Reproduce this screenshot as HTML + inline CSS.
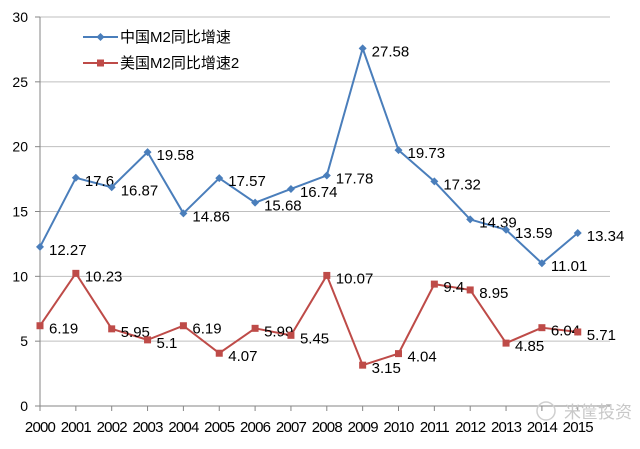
<!DOCTYPE html>
<html><head><meta charset="utf-8"><style>
html,body{margin:0;padding:0;background:#fff;width:640px;height:449px;overflow:hidden}
text{font-family:"Liberation Sans","Noto Sans CJK SC",sans-serif}
</style></head><body>
<svg id="chart" width="640" height="449" viewBox="0 0 640 449" xmlns="http://www.w3.org/2000/svg"></svg>
<script>
const years=["2000","2001","2002","2003","2004","2005","2006","2007","2008","2009","2010","2011","2012","2013","2014","2015"];
const chinaM2=[12.27,17.6,16.87,19.58,14.86,17.57,15.68,16.74,17.78,27.58,19.73,17.32,14.39,13.59,11.01,13.34];
const usM2=[6.19,10.23,5.95,5.1,6.19,4.07,5.99,5.45,10.07,3.15,4.04,9.4,8.95,4.85,6.04,5.71];
const yTicks=[0,5,10,15,20,25,30];
const NS="http://www.w3.org/2000/svg";
const svg=document.getElementById('chart');
const x0=40,dx=35.85,y0=406,yTop=17,yMax=30;
function xs(i){return x0+i*dx;}
function ys(v){return y0-(v/yMax)*(y0-yTop);}
function mk(t,a,p){const e=document.createElementNS(NS,t);for(const k in a)e.setAttribute(k,a[k]);(p||svg).appendChild(e);return e;}
yTicks.forEach(v=>{
  if(v>0){const g=mk('line',{x1:x0,x2:610,y1:ys(v),y2:ys(v),stroke:'#bfbfbf','stroke-width':1});
  
  }
  const tk=mk('line',{x1:x0-5,x2:x0,y1:ys(v),y2:ys(v),stroke:'#868686'});
  
  
  const t=mk('text',{x:x0-12,y:ys(v)+5,'text-anchor':'end','font-size':14,fill:'#000'});
  t.textContent=v;
  
  
});
const ya=mk('line',{x1:x0,x2:x0,y1:yTop,y2:y0,stroke:'#868686'});


const xa=mk('line',{x1:x0,x2:610,y1:y0,y2:y0,stroke:'#868686'});


years.forEach((yr,i)=>{
  const tk=mk('line',{x1:xs(i),x2:xs(i),y1:y0,y2:y0+5,stroke:'#868686'});
  
  
  const t=mk('text',{x:xs(i),y:432,'text-anchor':'middle','font-size':15,'letter-spacing':'-0.8',fill:'#000'});
  t.textContent=yr;
  
  
});
function series(vals,color,marker,name){
  const pts=vals.map((v,i)=>xs(i)+','+ys(v)).join(' ');
  const l=mk('polyline',{points:pts,fill:'none',stroke:color,'stroke-width':2,'stroke-linejoin':'round'});
  
  
  vals.forEach((v,i)=>{
    let m;
    if(marker==='diamond'){m=mk('polygon',{points:`${xs(i)},${ys(v)-4} ${xs(i)+4},${ys(v)} ${xs(i)},${ys(v)+4} ${xs(i)-4},${ys(v)}`,fill:color});}
    else{m=mk('rect',{x:xs(i)-3.5,y:ys(v)-3.5,width:7,height:7,fill:color});}
    
    
    const t=mk('text',{x:xs(i)+9,y:ys(v)+8,'font-size':15,fill:'#000'});
    t.textContent=v;
    
    
  });
}
series(chinaM2,'#4a7ebb','diamond','china-m2');
series(usM2,'#be4b48','square','us-m2');
const lg=mk('g',{});


[[ '中国M2同比增速','#4a7ebb','diamond',37],['美国M2同比增速2','#be4b48','square',63]].forEach(([lab,c,mkT,y])=>{
  const e=mk('g',{},lg);
  
  
  mk('line',{x1:83,x2:118,y1:y,y2:y,stroke:c,'stroke-width':2},e);
  if(mkT==='diamond')mk('polygon',{points:`100.5,${y-4} 104.5,${y} 100.5,${y+4} 96.5,${y}`,fill:c},e);
  else mk('rect',{x:97,y:y-3.5,width:7,height:7,fill:c},e);
  const t=mk('text',{x:120,y:y+5,'font-size':15,fill:'#000'},e);
  t.textContent=lab;
});
const w=mk('text',{x:564,y:418,'font-size':17,fill:'#c8c8c8'});
w.textContent='米筐投资';


const wc=mk('circle',{cx:546,cy:411,r:9,fill:'none',stroke:'#cfcfcf','stroke-width':1.5});


</script>
</body></html>
